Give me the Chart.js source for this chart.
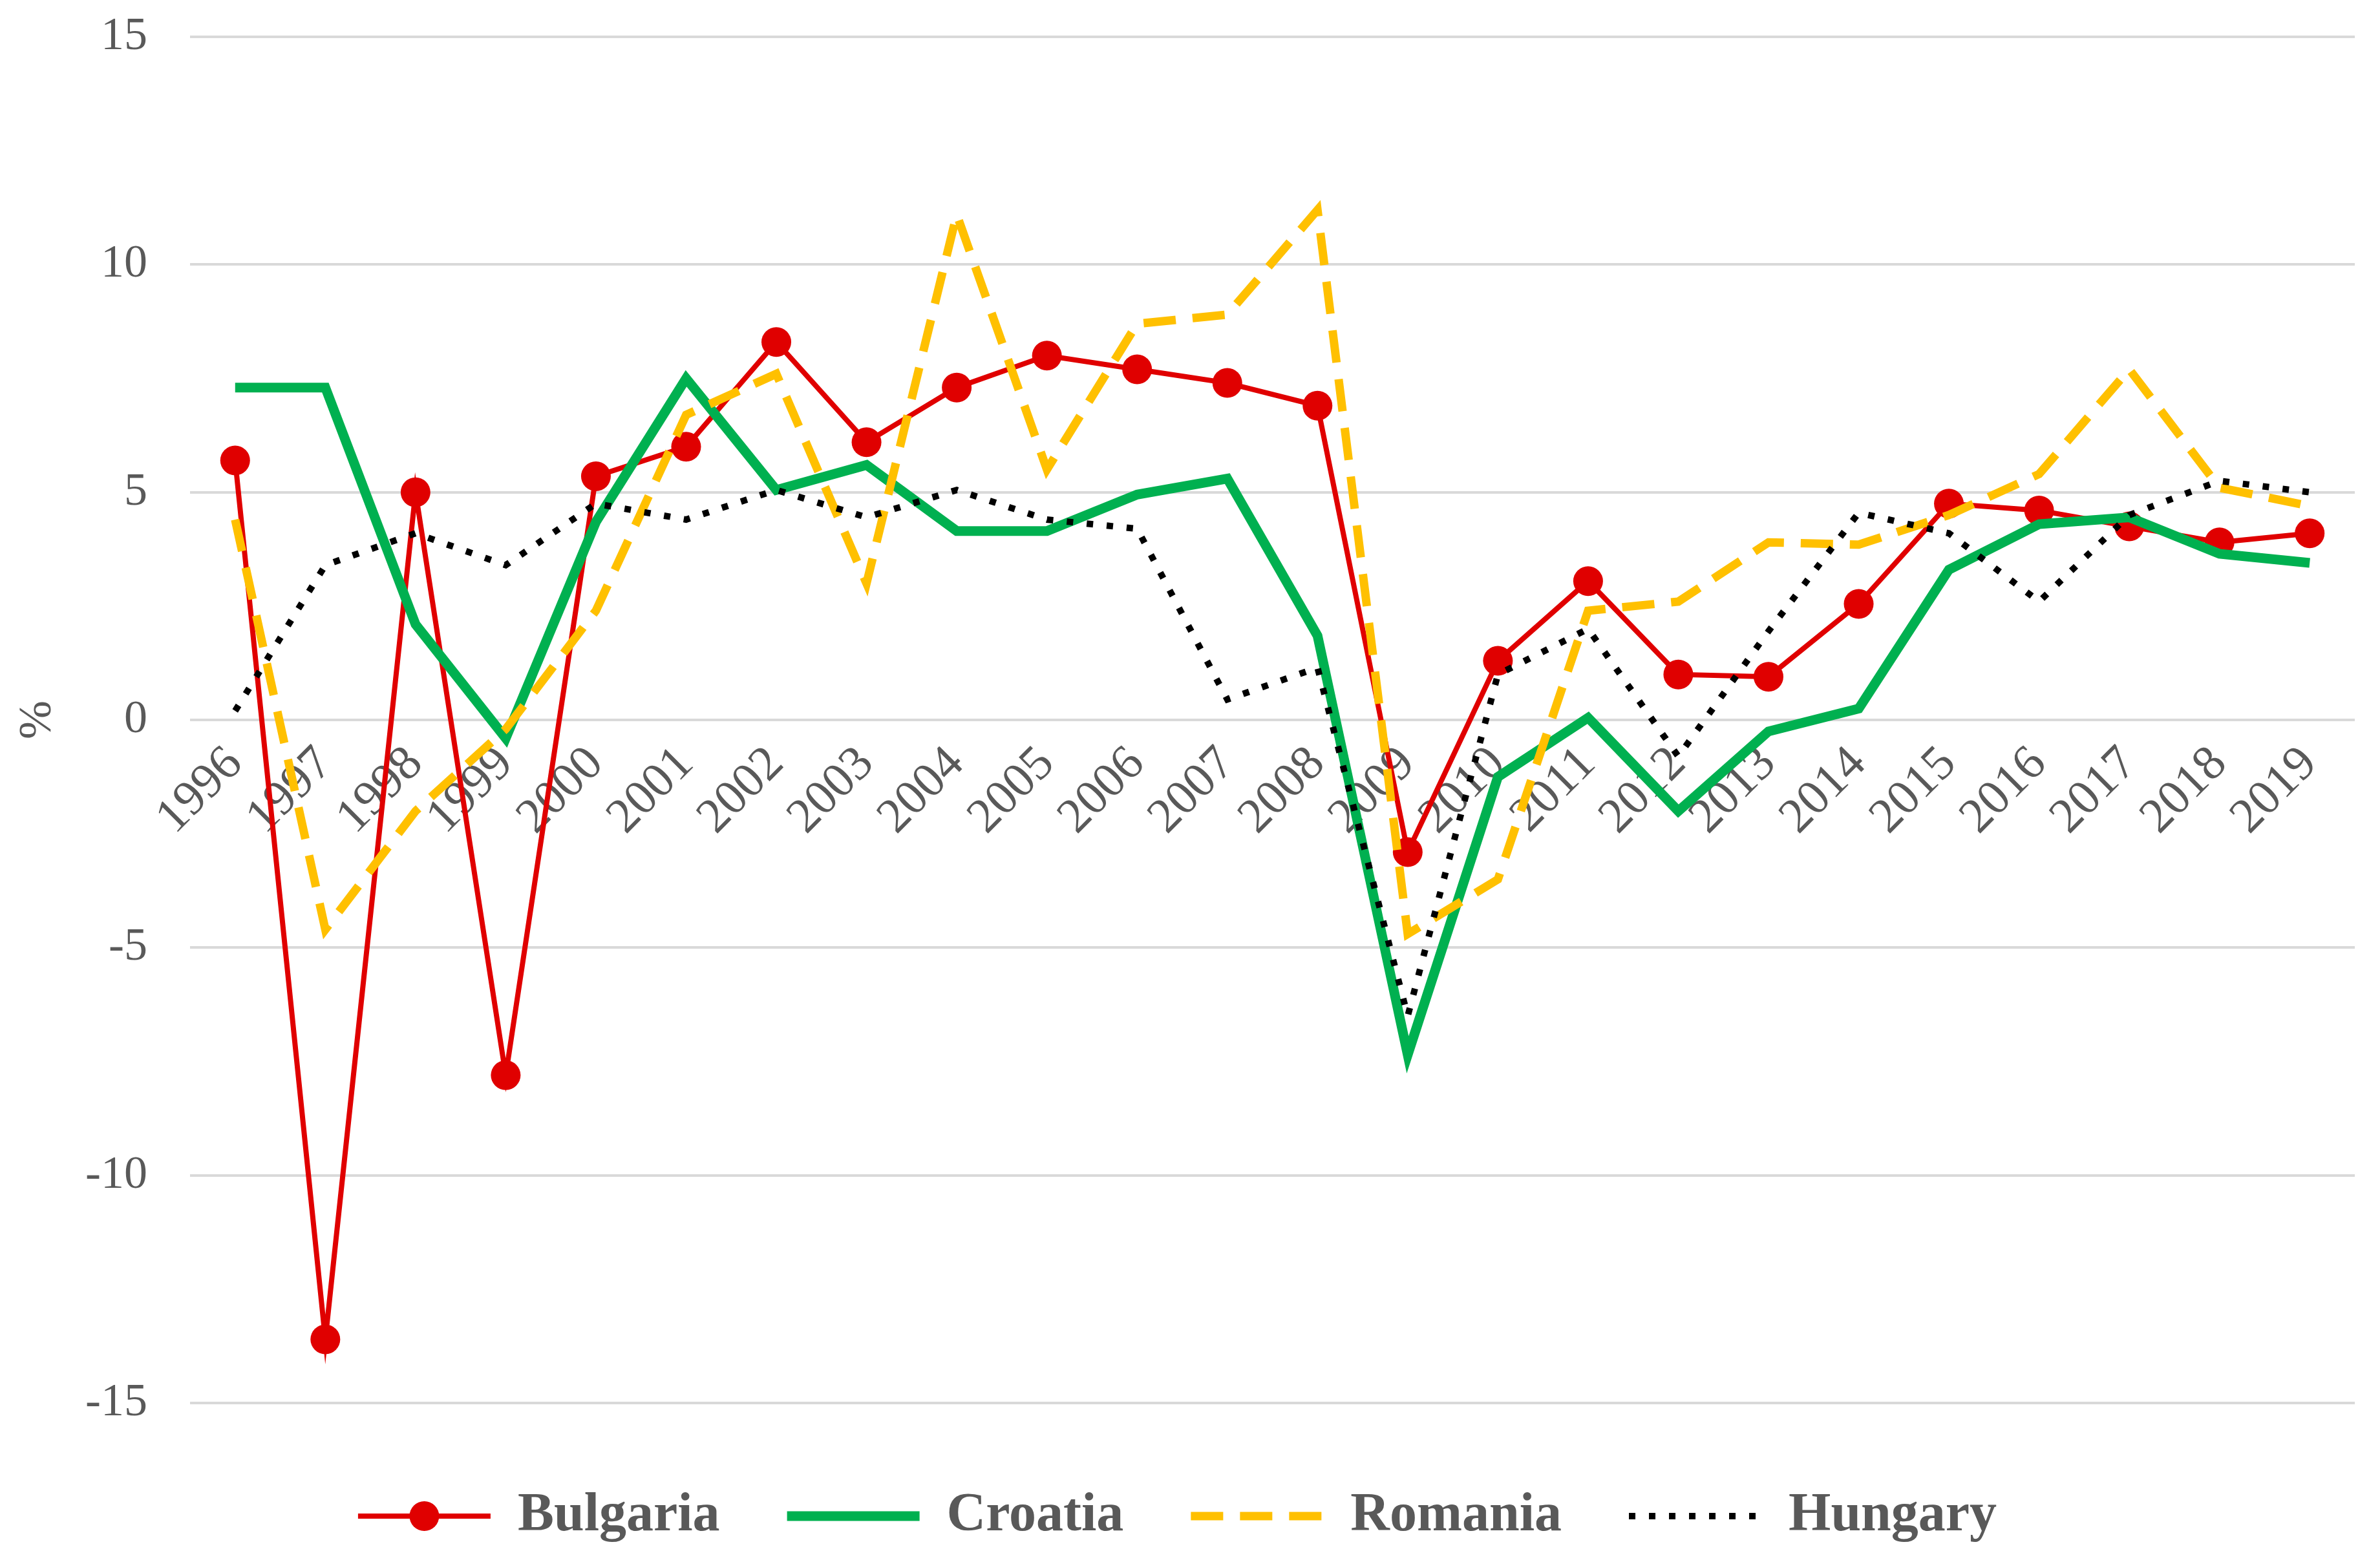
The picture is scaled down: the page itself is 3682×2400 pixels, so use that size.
<!DOCTYPE html>
<html>
<head>
<meta charset="utf-8">
<script src="https://cdn.jsdelivr.net/npm/chart.js@4/dist/chart.umd.min.js"></script>
<style>
  html, body { margin: 0; padding: 0; background: #fff; }
  #wrap { width: 3682px; height: 2400px; position: relative; }
</style>
</head>
<body>
<div id="wrap"><canvas id="chart"></canvas></div>
<script>
// GDP growth, annual %, four countries

const years = ['1996', '1997', '1998', '1999', '2000', '2001', '2002', '2003', '2004', '2005', '2006', '2007',
               '2008', '2009', '2010', '2011', '2012', '2013', '2014', '2015', '2016', '2017', '2018', '2019']

const bulgaria = [5.7, -13.6, 5.0, -7.8, 5.35, 6.0, 8.3, 6.1, 7.3, 8.0, 7.7, 7.4,
                  6.9, -2.9, 1.3, 3.05, 1.0, 0.95, 2.55, 4.75, 4.6, 4.25, 3.9, 4.1]
const croatia  = [7.3, 7.3, 2.1, -0.4, 4.35, 7.5, 5.05, 5.6, 4.15, 4.15, 4.95, 5.3,
                  1.85, -7.35, -1.25, 0.05, -2.0, -0.25, 0.25, 3.3, 4.3, 4.45, 3.65, 3.45]
const romania  = [4.4, -4.6, -2.0, -0.2, 2.4, 6.7, 7.6, 3.0, 11.1, 5.5, 8.7, 8.9,
                  11.2, -4.7, -3.5, 2.4, 2.6, 3.9, 3.85, 4.5, 5.4, 7.7, 5.1, 4.7]
const hungary  = [0.2, 3.4, 4.1, 3.4, 4.75, 4.4, 5.05, 4.45, 5.05, 4.4, 4.2, 0.45,
                  1.15, -6.5, 1.0, 2.0, -0.8, 1.95, 4.55, 4.1, 2.6, 4.5, 5.25, 5.0]

const yTicks = [-15, -10, -5, 0, 5, 10, 15]

const GREY = '#595959'
const SERIF = "'Liberation Serif', 'Times New Roman', serif"
const LEGEND_LINE = 205
const LEGEND_FONT = 84

Chart.defaults.font.family = SERIF
Chart.defaults.color = GREY

// circle marker on the Bulgaria legend sample
const legendMarker = {
    id: 'legendMarker',
    afterDraw(chart) {
        const hb = chart.legend.legendHitBoxes[0]
        const ds = chart.data.datasets[0]
        const ctx = chart.ctx
        ctx.save()
        ctx.fillStyle = ds.pointBackgroundColor
        ctx.beginPath()
        ctx.arc(hb.left + LEGEND_LINE / 2, hb.top + LEGEND_FONT / 2, ds.pointRadius, 0, Math.PI * 2)
        ctx.fill()
        ctx.restore()
    }
}

new Chart(document.getElementById('chart'), {
    type: 'line',
    data: {
        labels: years,
        datasets: [
            {
                label: 'Bulgaria', data: bulgaria, order: 3,
                borderColor: '#E00000', borderWidth: 8,
                pointRadius: 23, pointBackgroundColor: '#E00000', pointBorderWidth: 0,
            },
            {
                label: 'Croatia', data: croatia, order: 2,
                borderColor: '#00B050', borderWidth: 15, pointRadius: 0,
            },
            {
                label: 'Romania', data: romania, order: 1,
                borderColor: '#FFC000', borderWidth: 13, borderDash: [50, 26], pointRadius: 0,
            },
            {
                label: 'Hungary', data: hungary, order: 0,
                borderColor: '#000000', borderWidth: 10, borderDash: [10, 21], pointRadius: 0,
            },
        ]
    },
    options: {
        responsive: true,
        maintainAspectRatio: false,
        animation: false,
        layout: { padding: { top: 57, right: 39, bottom: 2, left: 0 } },
        elements: { line: { tension: 0, fill: false, borderCapStyle: 'butt' } },
        scales: {
            x: {
                type: 'category',
                position: { y: 0 },
                offset: true,
                grid: { display: false },
                border: { display: false },
                ticks: {
                    autoSkip: false,
                    minRotation: 45,
                    maxRotation: 45,
                    padding: 16,
                    color: GREY,
                    font: { size: 76 },
                }
            },
            y: {
                min: -15,
                max: 15,
                afterBuildTicks: scale => { scale.ticks = yTicks.map(v => ({ value: v })) },
                afterFit: scale => { scale.width = 294 },
                // invisible tick marks give the gap between labels and plot
                grid: { color: '#D9D9D9', lineWidth: 4, drawTicks: true, tickLength: 66, tickColor: 'rgba(0,0,0,0)' },
                border: { display: false },
                ticks: { padding: 0, color: GREY, font: { size: 72 } },
                title: {
                    display: true,
                    text: '%',
                    color: GREY,
                    font: { size: 72 },
                    padding: { top: 16, bottom: 0 },
                }
            }
        },
        plugins: {
            tooltip: { enabled: false },
            legend: {
                position: 'bottom',
                // blank title only spaces the legend row away from the plot
                title: { display: true, text: ' ', font: { size: 24 }, padding: 0 },
                labels: {
                    usePointStyle: true,
                    pointStyleWidth: LEGEND_LINE,
                    padding: 104,
                    color: GREY,
                    font: { size: LEGEND_FONT, weight: 'bold' },
                    generateLabels: chart => chart.data.datasets.map((ds, i) => ({
                        text: ds.label,
                        fontColor: GREY,
                        strokeStyle: ds.borderColor,
                        fillStyle: ds.borderColor,
                        lineWidth: ds.borderWidth,
                        lineDash: ds.borderDash || [],
                        lineCap: 'butt',
                        pointStyle: 'line',
                        hidden: false,
                        datasetIndex: i,
                    })),
                }
            }
        }
    },
    plugins: [legendMarker]
})
</script>
</body>
</html>
